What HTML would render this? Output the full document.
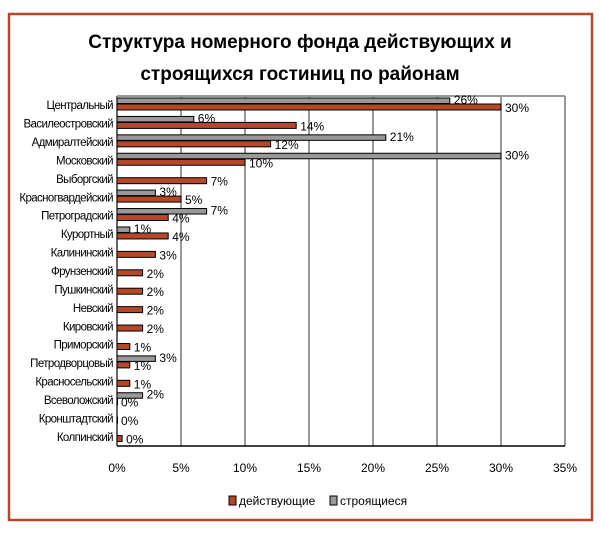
<!DOCTYPE html>
<html><head><meta charset="utf-8"><style>
body{margin:0;background:#fff;width:601px;height:532px;overflow:hidden;font-family:"Liberation Sans",sans-serif}
</style></head><body>
<svg width="601" height="532" xmlns="http://www.w3.org/2000/svg" font-family="Liberation Sans, sans-serif">
<rect x="9" y="14" width="583" height="506" fill="#fff" stroke="#b5472a" stroke-width="2.5"/>
<text x="300" y="48" text-anchor="middle" font-size="19" font-weight="bold">Структура номерного фонда действующих и</text>
<text x="300" y="80" text-anchor="middle" font-size="19" font-weight="bold">строящихся гостиниц по районам</text>
<g id="grid"></g><g id="bars"></g><g id="labels"></g>
<rect x="229" y="496" width="7" height="9" fill="#b5472a" stroke="#000"/>
<text x="239" y="505" font-size="12">действующие</text>
<rect x="330" y="496" width="7" height="9" fill="#999" stroke="#000"/>
<text x="340" y="505" font-size="12">строящиеся</text>
</svg>
<script>
const categories=["Центральный","Василеостровский","Адмиралтейский","Московский","Выборгский","Красногвардейский","Петроградский","Курортный","Калининский","Фрунзенский","Пушкинский","Невский","Кировский","Приморский","Петродворцовый","Красносельский","Всеволожский","Кронштадтский","Колпинский"];
const operating=[30,14,12,10,7,5,4,4,3,2,2,2,2,1,1,1,0,0,0.4];
const building=[26,6,21,30,0,3,7,1,0,0,0,0,0,0,3,0,2,0,0];
const ticks=[0,5,10,15,20,25,30,35];
const NS="http://www.w3.org/2000/svg";
const x0=117,x1=565,yTop=96,yBot=446;
const xs=v=>x0+(v/35)*(x1-x0);
const rowH=(yBot-yTop)/categories.length;
function el(t,a,p){const e=document.createElementNS(NS,t);for(const k in a)e.setAttribute(k,a[k]);document.getElementById(p).appendChild(e);return e;}
ticks.forEach(t=>{
 const l=el('line',{x1:xs(t),x2:xs(t),y1:yTop,y2:yBot,stroke:t===0?'#000':'#555','stroke-width':1.2},'grid');
 
 
 const tx=el('text',{x:xs(t),y:472,'text-anchor':'middle','font-size':12},'labels');
 tx.textContent=t+'%';
 
 
});
const axisLine=el('line',{x1:x0,x2:x1,y1:yBot,y2:yBot,stroke:'#000','stroke-width':1.5},'grid');


const plotTop=el('line',{x1:x0,x2:x1,y1:yTop,y2:yTop,stroke:'#999','stroke-width':2},'grid');


categories.forEach((c,i)=>{
 const y=yTop+i*rowH;
 const cl=el('text',{x:113,y:y+rowH/2+4,'text-anchor':'end','font-size':11.5,'letter-spacing':'-0.6'},'labels');
 cl.textContent=c;
 
 
 const bv=building[i];
 if(bv>0){
  const b=el('rect',{x:x0,y:y+2,width:xs(bv)-x0,height:5.5,fill:'#999',stroke:'#000','stroke-width':1},'bars');
  
  
 }
 const ov=operating[i];
 const o=el('rect',{x:x0,y:y+8,width:Math.max(xs(ov)-x0,0.5),height:6,fill:'#b5472a',stroke:'#000','stroke-width':1},'bars');
 
 
 const ol=el('text',{x:xs(ov)+4,y:y+16,'font-size':12},'labels');
 ol.textContent=Math.round(ov)+'%';
 
 
 if(bv>0){
  const bl=el('text',{x:xs(bv)+4,y:y+8,'font-size':12},'labels');
  bl.textContent=bv+'%';
  
  
 }
});
</script>
</body></html>
